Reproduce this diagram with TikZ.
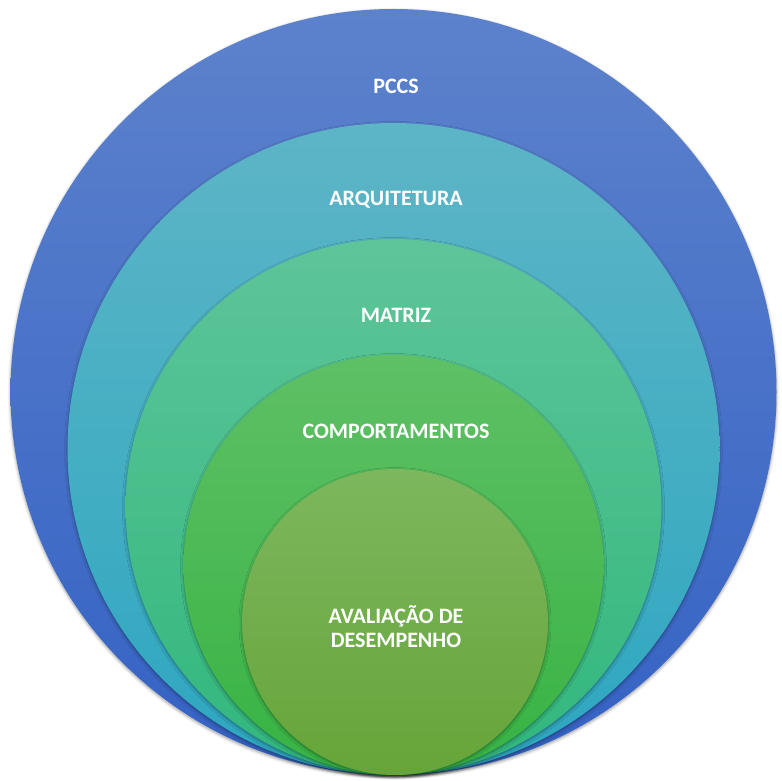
\documentclass[tikz,border=0pt]{standalone}
\usepackage{fontspec}
\setmainfont{Carlito}
\usetikzlibrary{shadows.blur}
\definecolor{c1t}{HTML}{5D82CC}
\definecolor{c1b}{HTML}{3462C4}
\definecolor{c2t}{HTML}{5DB5C6}
\definecolor{c2b}{HTML}{2DA7C0}
\definecolor{c3t}{HTML}{5EC599}
\definecolor{c3b}{HTML}{31B77D}
\definecolor{c4t}{HTML}{5FC065}
\definecolor{c4b}{HTML}{37B343}
\definecolor{c5t}{HTML}{7DB75E}
\definecolor{c5b}{HTML}{66A539}
\tikzset{
  ring/.style={circle, inner sep=0pt, draw=none,
    blur shadow={shadow xshift=0pt, shadow yshift=-1.5pt, shadow blur radius=3pt, shadow opacity=40}},
  lbl/.style={text=white, font=\fontsize{22}{24}\selectfont\bfseries, align=center}
}
\begin{document}
\begin{tikzpicture}[x=1pt,y=1pt]
\useasboundingbox (0,0) rectangle (782,780);
\node[ring, minimum size=766pt, top color=c1t, bottom color=c1b] (c1) at (393.5,388) {};
\node[ring, minimum size=652pt, top color=c2t, bottom color=c2b] (c2) at (393.5,331) {};
\node[ring, minimum size=536pt, top color=c3t, bottom color=c3b] (c3) at (393.5,273) {};
\node[ring, minimum size=420pt, top color=c4t, bottom color=c4b] (c4) at (393.5,215) {};
\node[ring, minimum size=306pt, top color=c5t, bottom color=c5b] (c5) at (395,158) {};
\node[lbl] (t1) at (396,694) {PCCS};
\node[lbl] (t2) at (396,580) {ARQUITETURA};
\node[lbl] (t3) at (396,465) {MATRIZ};
\node[lbl] (t4) at (396,349) {COMPORTAMENTOS};
\node[lbl] (t5) at (396,153) {AVALIAÇÃO DE\\DESEMPENHO};
\end{tikzpicture}
\end{document}
